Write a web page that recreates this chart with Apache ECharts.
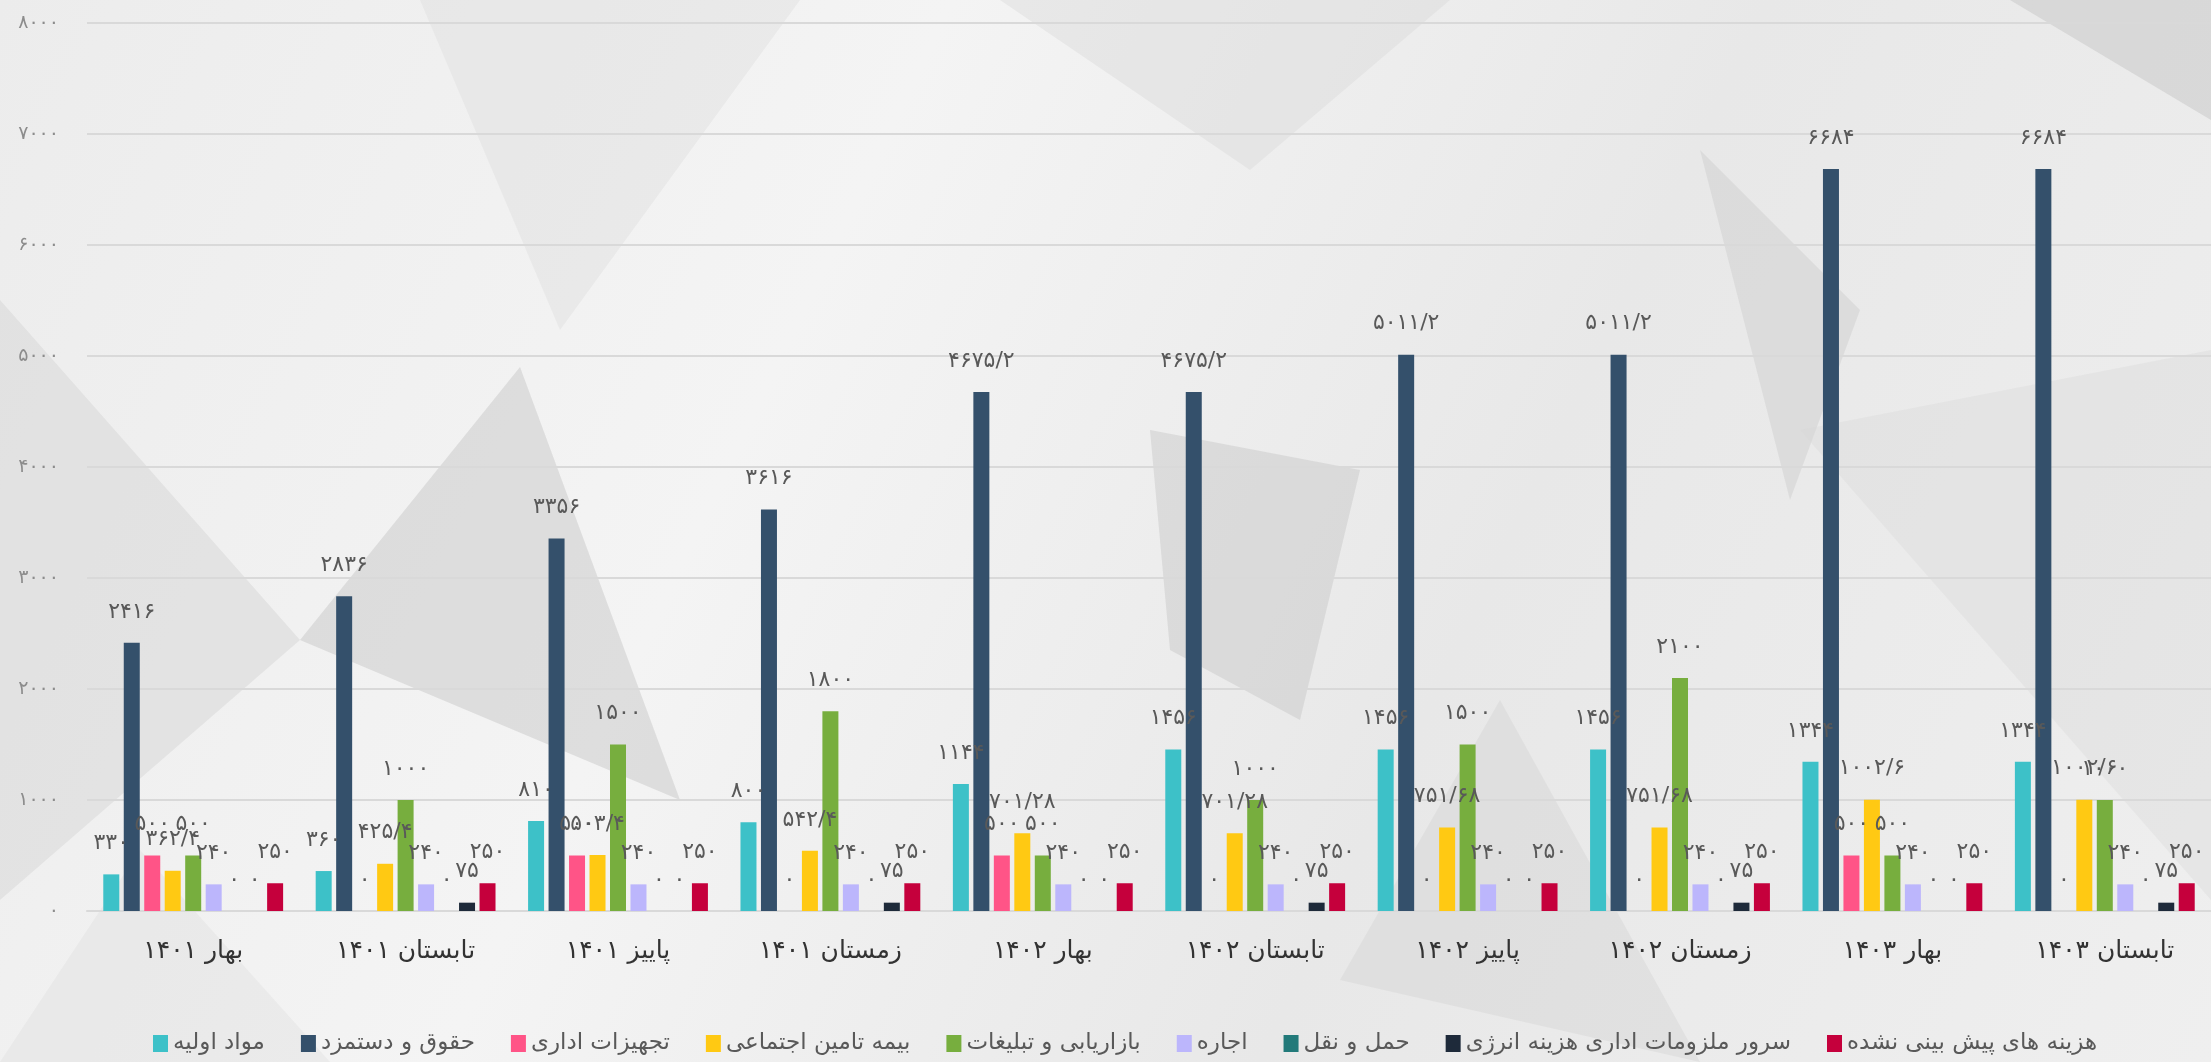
<!DOCTYPE html>
<html>
<head>
<meta charset="utf-8">
<script src="https://cdn.jsdelivr.net/npm/echarts@6/dist/echarts.min.js"></script>
<style>
  html, body { margin: 0; padding: 0; }
  #chart { width: 2211px; height: 1062px; }
</style>
</head>
<body>
<div id="chart"></div>
<script>
const categories = ['بهار ۱۴۰۱', 'تابستان ۱۴۰۱', 'پاییز ۱۴۰۱', 'زمستان ۱۴۰۱', 'بهار ۱۴۰۲',
  'تابستان ۱۴۰۲', 'پاییز ۱۴۰۲', 'زمستان ۱۴۰۲', 'بهار ۱۴۰۳', 'تابستان ۱۴۰۳'];

const seriesNames = ['مواد اولیه', 'حقوق و دستمزد', 'تجهیزات اداری', 'بیمه تامین اجتماعی',
  'بازاریابی و تبلیغات', 'اجاره', 'حمل و نقل', 'سرور ملزومات اداری هزینه انرژی', 'هزینه های پیش بینی نشده'];

const rawMaterials = [330, 360, 810, 800, 1144, 1456, 1456, 1456, 1344, 1344];
const salaries = [2416, 2836, 3356, 3616, 4675.2, 4675.2, 5011.2, 5011.2, 6684, 6684];
const officeEquipment = [500, 0, 500, 0, 500, 0, 0, 0, 500, 0];
const insurance = [362.4, 425.4, 503.4, 542.4, 701.28, 701.28, 751.68, 751.68, 1002.6, 1002.6];
const marketing = [500, 1000, 1500, 1800, 500, 1000, 1500, 2100, 500, 1000];
const rent = [240, 240, 240, 240, 240, 240, 240, 240, 240, 240];
const transport = [0, 0, 0, 0, 0, 0, 0, 0, 0, 0];
const serverEnergy = [0, 75, 0, 75, 0, 75, 0, 75, 0, 75];
const unforeseen = [250, 250, 250, 250, 250, 250, 250, 250, 250, 250];

const seriesData = [rawMaterials, salaries, officeEquipment, insurance, marketing, rent, transport, serverEnergy, unforeseen];
const colors = ['#3dc1c8', '#34506b', '#ff5487', '#ffc913', '#77ae3e', '#bcb6fc', '#227a7a', '#1e2a3a', '#c5003c'];

const faDigits = '۰۱۲۳۴۵۶۷۸۹';
const toFa = v => String(v).replace(/\d/g, d => faDigits[d]).replace('.', '/');

const font = 'DejaVu Sans';

// low-poly backdrop, decoration only
const shades = [
  { pts: [[0, 300], [300, 640], [0, 900]], c: '#d2d2d2', o: 0.45 },
  { pts: [[300, 640], [520, 367], [680, 800]], c: '#c4c4c4', o: 0.45 },
  { pts: [[420, 0], [800, 0], [560, 330]], c: '#dcdcdc', o: 0.4 },
  { pts: [[1150, 430], [1360, 470], [1300, 720], [1170, 650]], c: '#c6c6c6', o: 0.45 },
  { pts: [[1000, 0], [1450, 0], [1250, 170]], c: '#d8d8d8', o: 0.4 },
  { pts: [[1700, 150], [1860, 310], [1790, 500]], c: '#c8c8c8', o: 0.4 },
  { pts: [[2010, 0], [2211, 0], [2211, 120]], c: '#c6c6c6', o: 0.5 },
  { pts: [[1800, 430], [2211, 350], [2211, 900]], c: '#d6d6d6', o: 0.35 },
  { pts: [[1340, 980], [1500, 700], [1700, 1062]], c: '#cfcfcf', o: 0.35 },
  { pts: [[0, 1062], [140, 850], [330, 1062]], c: '#dedede', o: 0.4 }
];

const chart = echarts.init(document.getElementById('chart'));

const option = {
  backgroundColor: {
    type: 'linear', x: 0, y: 0, x2: 1, y2: 1,
    colorStops: [
      { offset: 0, color: '#ececec' },
      { offset: 0.35, color: '#f4f4f4' },
      { offset: 0.65, color: '#e8e8e8' },
      { offset: 1, color: '#efefef' }
    ]
  },
  color: colors,
  textStyle: { fontFamily: font },
  graphic: shades.map(s => ({
    type: 'polygon',
    silent: true,
    z: -10,
    shape: { points: s.pts },
    style: { fill: s.c, opacity: s.o }
  })),
  grid: { left: 87, right: -5, top: 23, bottom: 151 },
  legend: {
    bottom: 2,
    left: 148,
    itemWidth: 15,
    itemHeight: 17,
    itemGap: 36,
    icon: 'rect',
    textStyle: { fontSize: 23, color: '#595959', fontFamily: font }
  },
  xAxis: {
    type: 'category',
    data: categories,
    axisTick: { show: false },
    axisLine: { lineStyle: { color: '#d9d9d9', width: 2 } },
    axisLabel: { fontSize: 25, color: '#333', margin: 28, fontFamily: font }
  },
  yAxis: {
    type: 'value',
    min: 0,
    max: 8000,
    interval: 1000,
    axisLine: { show: false },
    axisTick: { show: false },
    splitLine: { lineStyle: { color: '#d9d9d9', width: 2 } },
    axisLabel: {
      fontSize: 19, color: '#8c8c8c', margin: 28, fontFamily: font,
      formatter: v => toFa(v)
    }
  },
  series: seriesNames.map((name, i) => ({
    name,
    type: 'bar',
    data: seriesData[i],
    barWidth: 16,
    barGap: '28%',
    label: {
      show: true,
      position: 'top',
      distance: 20,
      fontSize: 22,
      color: '#595959',
      fontFamily: font,
      formatter: p => toFa(p.value)
    }
  }))
};

chart.setOption(option);
</script>
</body>
</html>
